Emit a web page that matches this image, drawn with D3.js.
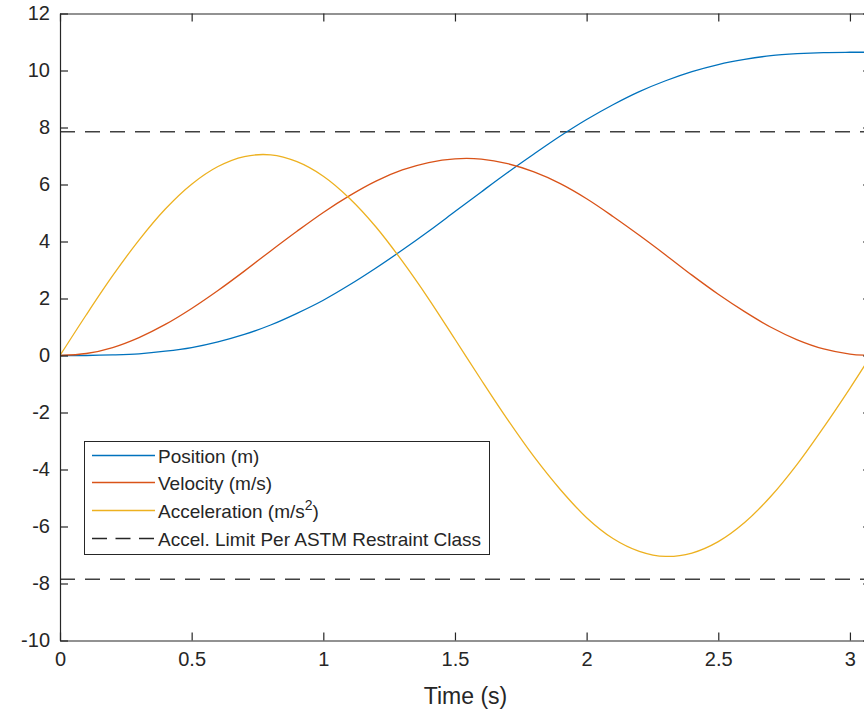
<!DOCTYPE html>
<html>
<head>
<meta charset="utf-8">
<script src="https://cdn.jsdelivr.net/npm/d3@7"></script>
<style>
  body { margin: 0; background: #fff; }
  svg { display: block; font-family: "Liberation Sans", Arial, sans-serif; }
</style>
</head>
<body>
<svg id="chart" width="864" height="716"></svg>
<script>
const time = [0, 0.1, 0.2, 0.3, 0.4, 0.5, 0.6, 0.7, 0.8, 0.9, 1.0, 1.1, 1.2, 1.3, 1.4, 1.5,
    1.6, 1.7, 1.8, 1.9, 2.0, 2.1, 2.2, 2.3, 2.4, 2.5, 2.6, 2.7, 2.8, 2.9, 3.0, 3.08];
const position = [0, 0.00, 0.02, 0.06, 0.15, 0.28, 0.48, 0.74, 1.07, 1.48, 1.94, 2.48, 3.07, 3.70, 4.36, 5.05,
    5.74, 6.42, 7.07, 7.70, 8.28, 8.80, 9.26, 9.64, 9.96, 10.21, 10.39, 10.52, 10.59, 10.63, 10.64, 10.64];
const velocity = [0, 0.07, 0.28, 0.63, 1.09, 1.65, 2.28, 2.96, 3.67, 4.36, 5.02, 5.61, 6.12, 6.51, 6.77, 6.90,
    6.89, 6.73, 6.44, 6.03, 5.50, 4.88, 4.22, 3.53, 2.82, 2.15, 1.54, 0.99, 0.55, 0.23, 0.05, 0];
const acceleration = [0, 1.43, 2.80, 4.05, 5.14, 6.01, 6.63, 6.98, 7.04, 6.80, 6.29, 5.51, 4.51, 3.31, 1.99, 0.57,
    -0.86, -2.25, -3.55, -4.70, -5.69, -6.42, -6.87, -7.05, -6.93, -6.53, -5.86, -4.94, -3.81, -2.52, -1.15, 0];
const accel_limit = 7.85;

const x_ticks = [0, 0.5, 1, 1.5, 2, 2.5, 3];
const y_ticks = [-10, -8, -6, -4, -2, 0, 2, 4, 6, 8, 10, 12];
const x_domain = [0, 3.08];
const y_domain = [-10, 12];

const series = [
    {name: 'Position (m)', values: position, color: '#0072BD'},
    {name: 'Velocity (m/s)', values: velocity, color: '#D95319'},
    {name: 'Acceleration (m/s', sup: '2', tail: ')', values: acceleration, color: '#EDB120'}
];

const margin = {left: 60, top: 13.5, right: 871, bottom: 640.5};
const svg = d3.select('#chart');
const axis_color = '#262626';

const x_scale = d3.scaleLinear().domain(x_domain).range([margin.left, margin.right]);
const y_scale = d3.scaleLinear().domain(y_domain).range([margin.bottom, margin.top]);

svg.append('clipPath').attr('id', 'plot-clip')
    .append('rect')
        .attr('x', margin.left).attr('y', margin.top)
        .attr('width', margin.right - margin.left)
        .attr('height', margin.bottom - margin.top);

const plot_grp = svg.append('g').attr('clip-path', 'url(#plot-clip)');

// accel limit lines
[accel_limit, -accel_limit].forEach(function(v){
    plot_grp.append('line')
        .attr('x1', x_scale(x_domain[0])).attr('x2', x_scale(x_domain[1]))
        .attr('y1', y_scale(v)).attr('y2', y_scale(v))
        .attr('stroke', '#404040')
        .attr('stroke-width', 1.6)
        .attr('stroke-dasharray', '15,10');
});

const line = d3.line()
    .x((d, i) => x_scale(time[i]))
    .y(d => y_scale(d))
    .curve(d3.curveCatmullRom);

series.forEach(function(s){
    plot_grp.append('path')
        .attr('d', line(s.values))
        .attr('fill', 'none')
        .attr('stroke', s.color)
        .attr('stroke-width', 1.3);
});

// axes: bottom/left with labels, top/right as plain box with ticks
const tick_size = 8;
const plain = d => String(d);
const style_axis = function(g){
    g.select('.domain').attr('stroke', axis_color).attr('stroke-width', 1.2);
    g.selectAll('.tick line').attr('stroke', axis_color).attr('stroke-width', 1.2);
    g.selectAll('.tick text').attr('fill', axis_color).style('font-size', '20px');
};

svg.append('g')
    .attr('transform', 'translate(0,' + margin.bottom + ')')
    .call(d3.axisBottom(x_scale).tickValues(x_ticks).tickSizeInner(-tick_size).tickSizeOuter(0)
        .tickPadding(18).tickFormat(plain))
    .call(style_axis)
    .call(g => g.selectAll('.tick text').attr('dy', '0.35em'));

svg.append('g')
    .attr('transform', 'translate(' + margin.left + ',0)')
    .call(d3.axisLeft(y_scale).tickValues(y_ticks).tickSizeInner(-tick_size).tickSizeOuter(0)
        .tickPadding(10).tickFormat(plain))
    .call(style_axis);

svg.append('g')
    .attr('transform', 'translate(0,' + margin.top + ')')
    .call(d3.axisTop(x_scale).tickValues(x_ticks).tickSizeInner(-tick_size).tickSizeOuter(0).tickFormat(''))
    .call(style_axis);

svg.append('g')
    .attr('transform', 'translate(' + margin.right + ',0)')
    .call(d3.axisRight(y_scale).tickValues(y_ticks).tickSizeInner(-tick_size).tickSizeOuter(0).tickFormat(''))
    .call(style_axis);

svg.append('text')
    .attr('x', (margin.left + margin.right) / 2)
    .attr('y', 704)
    .attr('text-anchor', 'middle')
    .attr('fill', axis_color)
    .style('font-size', '23px')
    .text('Time (s)');

// legend
const legend = svg.append('g');
legend.append('rect')
    .attr('x', 84.5).attr('y', 441.5)
    .attr('width', 405).attr('height', 113)
    .attr('fill', '#fff')
    .attr('stroke', axis_color)
    .attr('stroke-width', 1);

const legend_rows = [455.5, 482.5, 510.5, 538.5];
const legend_items = series.map(s => ({label: s, color: s.color, dash: null}))
    .concat([{label: {name: 'Accel. Limit Per ASTM Restraint Class'}, color: '#262626', dash: '15,8.5'}]);

legend_items.forEach(function(item, i){
    const y = legend_rows[i];
    legend.append('line')
        .attr('x1', 92).attr('x2', 155)
        .attr('y1', y).attr('y2', y)
        .attr('stroke', item.color)
        .attr('stroke-width', 1.3)
        .attr('stroke-dasharray', item.dash);
    const t = legend.append('text')
        .attr('x', 158).attr('y', y + 7)
        .attr('fill', axis_color)
        .style('font-size', '19px')
        .text(item.label.name);
    if (item.label.sup) {
        t.append('tspan').attr('dy', -8).style('font-size', '14px').text(item.label.sup);
        t.append('tspan').attr('dy', 8).text(item.label.tail);
    }
});
</script>
</body>
</html>
